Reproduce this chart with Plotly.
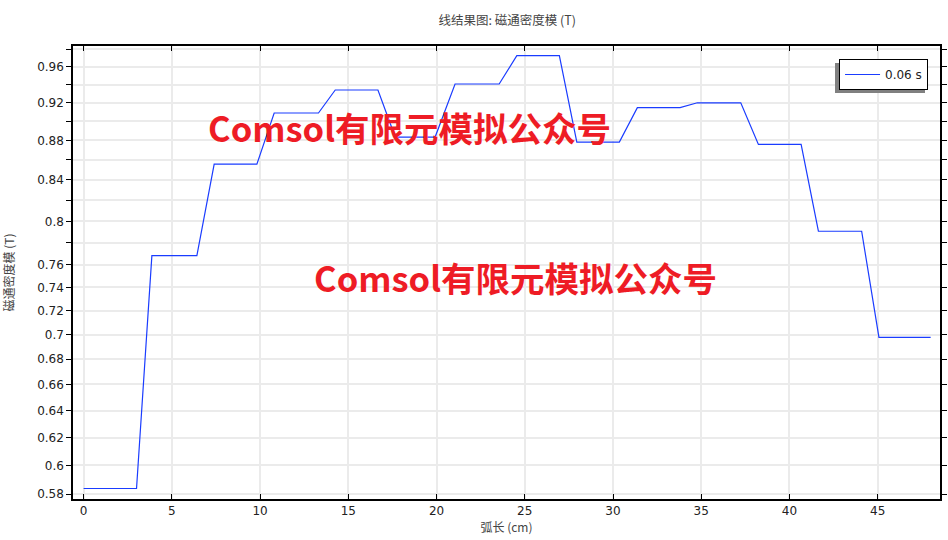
import plotly.graph_objects as go

# arc length (cm) and flux density norm (T)
arc_len = [0, 3.0, 3.87, 6.42, 7.40, 9.82, 10.80, 13.31, 14.26, 16.68, 17.66, 19.92,
           21.05, 23.55, 24.55, 26.96, 27.95, 30.36, 31.38, 33.80, 34.78, 37.24,
           38.24, 40.66, 41.64, 44.09, 45.07, 48.0]
b_norm = [0.5838, 0.5838, 0.7683, 0.7683, 0.8558, 0.8558, 0.909, 0.909, 0.934, 0.934,
          0.8836, 0.8836, 0.9406, 0.9406, 0.9726, 0.9726, 0.8784, 0.8784, 0.9147,
          0.9147, 0.920, 0.920, 0.876, 0.876, 0.7907, 0.7907, 0.6977, 0.6977]

x_ticks = [0, 5, 10, 15, 20, 25, 30, 35, 40, 45]
y_ticks = [0.58, 0.60, 0.62, 0.64, 0.66, 0.68, 0.70, 0.72, 0.74, 0.76, 0.78,
           0.80, 0.82, 0.84, 0.86, 0.88, 0.90, 0.92, 0.94, 0.96, 0.98]
y_labels = ['0.58', '0.6', '0.62', '0.64', '0.66', '0.68', '0.7', '0.72', '0.74',
            '0.76', '', '0.8', '', '0.84', '', '0.88', '', '0.92', '', '0.96', '']

series_name = '0.06 s'
watermark = 'Comsol有限元模拟公众号'

font_num = 'DejaVu Sans'
font_cjk = 'Noto Sans CJK SC'

fig = go.Figure()

fig.add_trace(go.Scatter(
    x=arc_len,
    y=b_norm,
    mode='lines',
    name=series_name,
    line=dict(color='#1a3cff', width=1.2)
))

axis_common = dict(
    showline=True,
    linecolor='black',
    linewidth=1.5,
    mirror='allticks',
    showgrid=True,
    gridcolor='#ebebeb',
    gridwidth=2,
    zeroline=False,
    automargin=False,
    ticklen=5,
    tickcolor='black',
    tickfont=dict(family=font_num, size=12, color='#222222'),
)

fig.update_xaxes(
    range=[-0.6, 48.53],
    tickvals=x_ticks,
    ticks='inside',
    title=dict(text='弧长 (cm)', font=dict(family=font_cjk, size=12, color='#444444'),
               standoff=4),
    **axis_common
)

fig.update_yaxes(
    type='log',
    range=[-0.2391, -0.00713],
    tickvals=y_ticks,
    ticktext=y_labels,
    ticks='outside',
    title=dict(text='磁通密度模 (T)', font=dict(family=font_cjk, size=12, color='#444444'),
               standoff=24),
    **axis_common
)

# legend shadow (offset down-left like the reference)
fig.add_shape(type='rect', xref='paper', yref='paper',
              x0=0.8789, x1=0.9827, y0=0.8962, y1=0.9625,
              fillcolor='#808080', line=dict(width=0), layer='above')

for xl, yc in [(0.1534, 0.821), (0.2757, 0.490)]:
    fig.add_annotation(
        x=xl, y=yc, xref='paper', yref='paper',
        xanchor='left', yanchor='middle',
        text='<b>' + watermark + '</b>',
        showarrow=False,
        font=dict(family=font_cjk, size=34.5, color='#ee1c25')
    )

fig.update_layout(
    width=948,
    height=540,
    title=dict(text='线结果图: 磁通密度模 (T)', x=0.535, xanchor='center', y=0.962,
               yanchor='middle', font=dict(family=font_cjk, size=12.5, color='#444444')),
    plot_bgcolor='white',
    paper_bgcolor='white',
    showlegend=True,
    legend=dict(
        x=0.9862, y=0.9713, xanchor='right', yanchor='top',
        bgcolor='white', bordercolor='black', borderwidth=1,
        font=dict(family=font_num, size=12, color='#222222'),
        itemwidth=35
    ),
    margin=dict(l=73, r=8, t=46, b=41)
)

fig.write_html('out.html', config={'displayModeBar': False},
               post_script="document.body.style.margin='0';")
